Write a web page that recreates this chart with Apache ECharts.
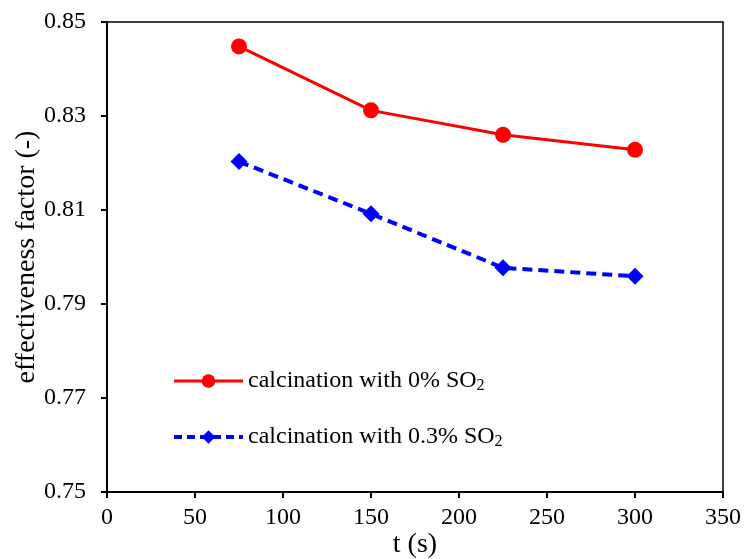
<!DOCTYPE html>
<html>
<head>
<meta charset="utf-8">
<script src="https://cdn.jsdelivr.net/npm/echarts@6/dist/echarts.min.js"></script>
<style>html,body{margin:0;padding:0;background:#fff}#c{width:747px;height:559px}</style>
</head>
<body>
<div id="c"></div>
<script>
const tValues = [75, 150, 225, 300];
const series0 = [0.8448, 0.8312, 0.8260, 0.8228];
const series03 = [0.8203, 0.8092, 0.7977, 0.7959];
const seriesNames = ['calcination with 0% SO2', 'calcination with 0.3% SO2'];
const xTitle = 't (s)';
const yTitle = 'effectiveness factor (-)';

const font = '"Liberation Serif", "Times New Roman", serif';
const chart = echarts.init(document.getElementById('c'));
chart.setOption({
  backgroundColor: '#fff',
  animation: false,
  grid: { left: 107, right: 24, top: 22, bottom: 67, show: true, borderColor: '#000', borderWidth: 1.5, outerBoundsMode: 'none', containLabel: false },
  legend: {
    orient: 'vertical', left: 167, top: 364,
    itemWidth: 69, itemHeight: 17, itemGap: 31,
    textStyle: {
      fontFamily: font, fontSize: 24, color: '#000',
      rich: { n: { fontFamily: font, fontSize: 24, color: '#000' }, s: { fontFamily: font, fontSize: 16, color: '#000', padding: [10, 0, 0, 0] } }
    },
    formatter: function (name) {
      return '{n|' + name.slice(0, -1) + '}{s|2}';
    },
    data: [
      { name: seriesNames[0], lineStyle: { color: '#ff0000', width: 3 } },
      { name: seriesNames[1], lineStyle: { color: '#0000ff', width: 4, type: [8, 5] } }
    ]
  },
  xAxis: {
    type: 'value', min: 0, max: 350, interval: 50,
    name: xTitle, nameLocation: 'middle', nameGap: 39, nameMoveOverlap: false,
    nameTextStyle: { fontFamily: font, fontSize: 28, color: '#000' },
    axisLine: { show: true, lineStyle: { color: '#000', width: 2 } },
    axisTick: { show: true, length: 6, inside: false, lineStyle: { color: '#000', width: 2 } },
    axisLabel: { fontFamily: font, fontSize: 24, color: '#000', margin: 14 },
    splitLine: { show: false }
  },
  yAxis: {
    type: 'value', min: 0.75, max: 0.85, interval: 0.02,
    name: yTitle, nameLocation: 'middle', nameGap: 66, nameMoveOverlap: false,
    nameTextStyle: { fontFamily: font, fontSize: 28, color: '#000' },
    axisLine: { show: true, lineStyle: { color: '#000', width: 2 } },
    axisTick: { show: true, length: 6, inside: false, lineStyle: { color: '#000', width: 2 } },
    axisLabel: { fontFamily: font, fontSize: 24, color: '#000', margin: 21, formatter: v => v.toFixed(2) },
    splitLine: { show: false }
  },
  series: [
    {
      name: seriesNames[0], type: 'line',
      data: tValues.map((t, i) => [t, series0[i]]),
      symbol: 'circle', symbolSize: 16,
      lineStyle: { color: '#ff0000', width: 3 },
      itemStyle: { color: '#ff0000' }
    },
    {
      name: seriesNames[1], type: 'line',
      data: tValues.map((t, i) => [t, series03[i]]),
      symbol: 'diamond', symbolSize: 17,
      lineStyle: { color: '#0000ff', width: 4, type: [10, 6] },
      itemStyle: { color: '#0000ff' }
    }
  ]
});
</script>
</body>
</html>
